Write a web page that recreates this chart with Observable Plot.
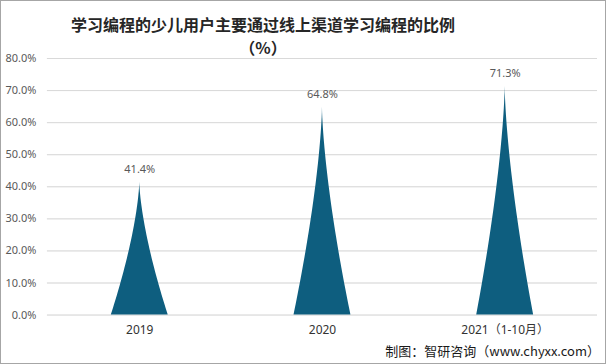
<!DOCTYPE html>
<html><head><meta charset="utf-8">
<script src="https://cdn.jsdelivr.net/npm/d3@7"></script>
<script src="https://cdn.jsdelivr.net/npm/@observablehq/plot@0.6"></script>
<style>
html,body{margin:0;padding:0;background:#fff;}
#frame{position:relative;width:606px;height:364px;box-sizing:border-box;border:1px solid #a6a6a6;overflow:hidden;font-family:"Noto Sans CJK SC","Noto Sans",sans-serif;}
#title{position:absolute;left:0;top:12px;width:524px;text-align:center;font-size:16px;font-weight:700;color:#262626;line-height:23px;}
#chart{position:absolute;left:-1px;top:49px;}
#foot{position:absolute;right:5px;top:341px;font-size:13px;color:#1a1a1a;line-height:18px;}
</style></head>
<body><div id="frame">
<div id="title">学习编程的少儿用户主要通过线上渠道学习编程的比例<br>（%）</div>
<div id="chart"></div>
<div id="foot">制图：智研咨询（www.chyxx.com）</div>
</div>
<script>
const categories = ["2019", "2020", "2021（1-10月）"];
const values = [0.414, 0.648, 0.713];
const yTicks = [0, 0.1, 0.2, 0.3, 0.4, 0.5, 0.6, 0.7, 0.8];
const data = categories.map((c, i) => ({cat: c, value: values[i]}));

function spikeRender(index, scales, vals, dimensions, context, next) {
  const g = next(index, scales, vals, dimensions, context);
  d3.select(g).selectAll("rect").each(function() {
    const r = d3.select(this);
    const x = +r.attr("x"), y = +r.attr("y"), w = +r.attr("width"), h = +r.attr("height");
    const cx = x + w / 2, yb = y + h;
    const pts = [];
    const n = 40;
    for (let k = 0; k <= n; k++) { const t = k / n; pts.push([cx - (w / 2) * Math.pow(1 - t, 1.5), yb - h * t]); }
    for (let k = n - 1; k >= 0; k--) { const t = k / n; pts.push([cx + (w / 2) * Math.pow(1 - t, 1.5), yb - h * t]); }
    d3.select(this.parentNode).append("path").attr("d", "M" + pts.map(p => p.join(",")).join("L") + "Z");
    r.remove();
  });
  return g;
}

const plot = Plot.plot({
  width: 606,
  height: 290,
  marginTop: 8,
  marginBottom: 25,
  marginLeft: 47,
  marginRight: 8,
  style: {fontFamily: "'Noto Sans', 'Noto Sans CJK SC', sans-serif", fontSize: "11px", color: "#595959", background: "transparent"},
  x: {domain: categories, paddingInner: 0.69, paddingOuter: 0.345, label: null, tickSize: 0, tickPadding: 10},
  y: {domain: [0, 0.8], ticks: yTicks, tickFormat: d3.format(".1%"), label: null, tickSize: 0, tickPadding: 11, grid: true},
  marks: [
    Plot.gridY(yTicks, {stroke: "#d9d9d9", strokeOpacity: 1}),
    Plot.axisX({tickSize: 0, tickPadding: 10, fill: "#333", fontSize: 12}),
    Plot.barY(data, {x: "cat", y: "value", fill: "#0e5e7f", render: spikeRender}),
    Plot.text(data, {x: "cat", y: "value", text: d => d3.format(".1%")(d.value), dy: -13, fill: "#595959", fontSize: 11})
  ]
});
document.getElementById("chart").appendChild(plot);
</script>
</body></html>
